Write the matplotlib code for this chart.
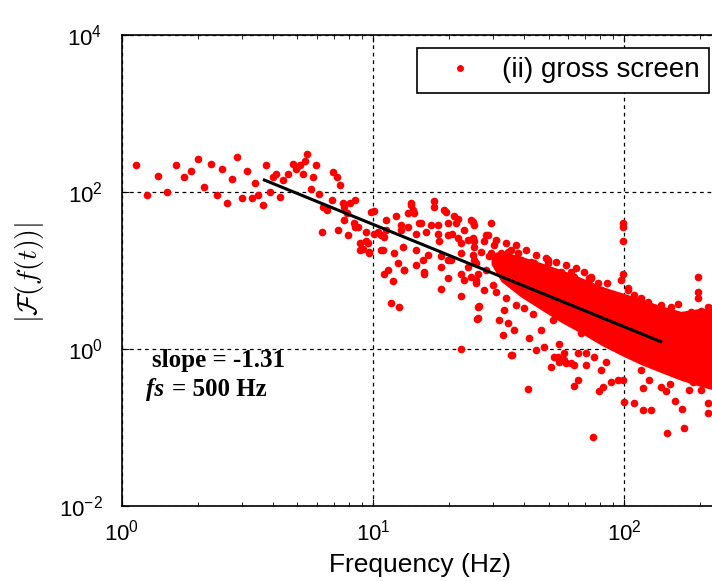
import numpy as np
import matplotlib
matplotlib.use('Agg')
import matplotlib.pyplot as plt
from matplotlib.lines import Line2D
from matplotlib.ticker import FixedLocator, FuncFormatter, NullLocator, LogLocator

# values, stored as log10(frequency in Hz) / log10(|F|)
low_logf = [0.055, 0.098, 0.145, 0.178, 0.215, 0.247, 0.274, 0.302, 0.326, 0.353,
            0.378, 0.398, 0.418, 0.437, 0.457, 0.477, 0.497, 0.517, 0.530, 0.543,
            0.562, 0.575, 0.588, 0.602, 0.615, 0.628, 0.641, 0.663, 0.681, 0.694,
            0.708, 0.721, 0.730, 0.737, 0.753, 0.760, 0.773, 0.786, 0.796, 0.802,
            0.816, 0.835, 0.842, 0.855, 0.869, 0.862, 0.882, 0.895, 0.902, 0.908,
            0.928, 0.928, 0.941, 0.948, 0.948, 0.886, 0.925, 0.886, 0.972, 0.959,
            0.985, 1.003, 0.992]
low_loga = [2.34, 1.96, 2.21, 2.00, 2.34, 2.19, 2.27, 2.42, 2.06, 2.36,
            1.96, 2.29, 1.86, 2.17, 2.44, 1.92, 2.27, 1.92, 2.11, 1.96,
            1.84, 2.34, 2.00, 2.19, 2.23, 1.94, 2.15, 2.23, 2.36, 2.29,
            2.34, 2.23, 2.40, 2.48, 2.04, 2.19, 2.34, 1.98, 1.49, 1.81,
            1.77, 1.90, 2.25, 2.19, 2.09, 1.52, 1.86, 1.73, 1.45, 1.86,
            1.90, 1.56, 1.56, 1.35, 1.26, 1.64, 1.60, 1.81, 1.37, 1.28,
            1.24, 1.47, 1.75]

mid_logf = [1.005, 0.972, 0.985, 0.979, 1.019, 1.032, 1.052, 1.045, 1.039, 1.059,
            1.045, 1.078, 1.072, 1.102, 1.092, 1.112, 1.118, 1.098, 1.122, 1.138,
            1.151, 1.158, 1.165, 1.138, 1.171, 1.184, 1.171, 1.171, 1.198, 1.204,
            1.218, 1.231, 1.242, 1.244, 1.258, 1.264, 1.271, 1.271, 1.284, 1.291,
            1.300, 1.298, 1.298, 1.300, 1.314, 1.324, 1.331, 1.337, 1.337, 1.351,
            1.351, 1.351, 1.364, 1.377, 1.390, 1.397, 1.364, 1.377, 1.404, 1.410,
            1.417, 1.417, 1.404, 1.211, 1.258, 1.351,
            1.052, 1.191, 1.112, 1.085, 1.032, 1.125, 1.204, 1.271, 1.311, 1.351,
            1.410, 1.390, 1.151, 1.397]
mid_loga = [1.76, 1.49, 1.22, 1.35, 1.49, 1.45, 1.64, 1.43, 1.26, 1.01,
            0.96, 0.87, 0.59, 0.53, 1.69, 1.58, 1.30, 1.09, 1.01, 1.56,
            1.83, 1.77, 1.73, 1.73, 1.47, 1.60, 1.26, 1.07, 1.13, 0.98,
            1.20, 1.58, 1.88, 1.81, 1.58, 1.37, 1.18, 0.77, 1.77, 1.75,
            1.60, 1.45, 1.13, 0.90, 1.47, 1.69, 1.60, 1.66, 1.41, 1.35,
            0.96, 0.67, 1.52, 1.39, 1.64, 1.41, 0.88, 1.05, 1.13, 0.88,
            0.54, 0.39, 1.30, 1.49, 1.47, 0.00,
            1.52, 1.60, 1.52, 1.22, 1.26, 1.01, 0.96, 1.05, 1.13, 1.22,
            1.09, 0.92, 1.86, 1.62]

dense_logf = [1.450, 1.443, 1.404, 1.397, 1.430, 1.417, 1.410, 1.450, 1.463, 1.483,
              1.497, 1.477, 1.443, 1.490, 1.424, 1.414, 1.503, 1.517, 1.537, 1.523,
              1.530, 1.510, 1.537, 1.550, 1.543, 1.563, 1.576, 1.590, 1.570, 1.563,
              1.550, 1.603, 1.610, 1.616, 1.629, 1.649, 1.656, 1.663, 1.636, 1.623,
              1.649, 1.669, 1.696, 1.702, 1.709, 1.716, 1.682, 1.709, 1.729, 1.736,
              1.749, 1.756, 1.762, 1.776, 1.789, 1.789, 1.796, 1.816, 1.829, 1.835,
              1.849, 1.862, 1.855, 1.762, 1.789, 1.816, 1.742, 1.470, 1.404,
              1.457, 1.470, 1.537, 1.590, 1.643, 1.696, 1.749, 1.802, 1.862, 1.895,
              1.490, 1.530, 1.570, 1.610, 1.649, 1.689, 1.729, 1.769, 1.809, 1.841]
dense_loga = [1.45, 1.37, 1.37, 1.20, 1.24, 0.96, 0.84, 1.01, 1.18, 1.32,
              1.09, 0.82, 0.75, 0.73, 0.55, 0.38, 0.37, 0.18, 0.33, 0.50,
              0.65, 1.22, 1.24, 1.26, 0.96, 1.09, 1.22, 0.84, 0.56, 0.24,
              -0.08, 0.52, 0.69, 1.05, 1.11, 0.92, 1.01, 0.73, 0.45, 0.14,
              -0.01, 0.24, 1.09, 0.84, 0.62, 0.37, 0.03, -0.23, 0.96, -0.10,
              0.75, 0.58, 0.94, 0.88, 0.98, 0.33, 0.67, 0.50, 0.20, 0.79,
              -0.05, 0.88, 0.54, -0.14, -0.18, -0.05, 0.07, 1.60, 1.58,
              1.45, 1.22, 1.22, 1.13, 1.09, 1.13, 0.98, 0.92, 0.90, 0.84,
              1.39, 1.35, 1.32, 1.26, 1.20, 1.16, 1.11, 1.07, 1.03, 0.98]

tail_logf = [1.553, 1.616, 1.722, 1.742, 1.769, 1.802, 1.816, 1.800, 1.849, 1.875,
             1.882, 1.908, 1.915, 1.902, 1.928, 1.948, 1.975, 1.995, 2.001, 2.041,
             2.075, 2.075, 2.108, 2.068, 2.101, 2.147, 2.167, 2.181, 2.203, 2.230,
             2.238, 2.171, 2.260, 2.274, 2.307, 2.336, 2.336, 1.762,
             1.995, 1.995, 1.995, 1.995, 1.988, 2.015, 2.294, 2.294, 2.294, 2.307,
             2.340, 2.187, 1.869, 1.895, 2.068, 1.961,
             1.869, 1.908, 1.932, 1.960, 2.016, 2.040, 2.068, 2.096, 2.120, 2.147,
             2.215, 2.239, 2.267, 2.335, 2.355]
tail_loga = [-0.08, -0.51, -0.10, -0.16, -0.18, -0.20, -0.39, -0.47, -0.20, -1.12,
             -0.10, -0.27, -0.48, -0.53, -0.16, -0.42, -0.39, -0.39, -0.67, -0.69,
             -0.50, -0.78, -0.78, -0.27, -0.39, -0.48, -0.54, -0.44, -0.66, -0.76,
             -1.01, -1.07, -0.52, -0.42, -0.52, -0.69, -0.82, -0.05,
             1.60, 1.56, 1.38, 0.96, 0.88, 0.75, 0.92, 0.73, 0.65, 0.48,
             0.52, 0.53, 0.90, 0.77, 0.62, 0.52,
             0.92, 0.75, 0.84, 0.62, 0.78, 0.69, 0.65, 0.60, 0.52, 0.56,
             0.57, 0.41, 0.47, 0.53, 0.50]

# the solid red mass at high frequency (upper / lower edge)
band_logf = [1.47, 1.51, 1.59, 1.669, 1.749, 1.829, 1.908, 1.988, 2.068,
             2.147, 2.227, 2.307, 2.355, 2.398]
band_hi = [1.22, 1.25, 1.18, 1.10, 1.01, 0.91, 0.80, 0.72, 0.64,
           0.55, 0.48, 0.52, 0.50, 0.50]
band_lo = [1.08, 0.86, 0.66, 0.50, 0.34, 0.20, 0.05, -0.08, -0.20,
           -0.30, -0.40, -0.48, -0.52, -0.52]

fit_freq = [3.69, 140.0]
fit_amp = [142.0, 1.24]

plt.rcParams['font.family'] = 'Liberation Sans'
plt.rcParams['mathtext.fontset'] = 'custom'
plt.rcParams['mathtext.rm'] = 'Liberation Sans'
plt.rcParams['mathtext.it'] = 'Liberation Sans:italic'
plt.rcParams['mathtext.bf'] = 'Liberation Sans:bold'

fig = plt.figure(figsize=(7.12, 5.81), dpi=100)
ax = fig.add_axes([122/712, 75/581, 602/712, 471/581])
ax.set_xscale('log')
ax.set_yscale('log')
ax.set_xlim(1, 250)
ax.set_ylim(1e-2, 1e4)
ax.set_axisbelow(True)

ax.fill_between(10**np.array(band_logf), 10**np.array(band_lo), 10**np.array(band_hi),
                color='red', lw=0, zorder=2)
for lf, la in [(low_logf, low_loga), (mid_logf, mid_loga),
               (dense_logf, dense_loga), (tail_logf, tail_loga)]:
    ax.plot(10**np.array(lf), 10**np.array(la), 'o', color='red', ms=5.5,
            mec='none', ls='none', zorder=3)
ax.plot(fit_freq, fit_amp, '-', color='k', lw=2.2, zorder=4)

fmt = FuncFormatter(lambda v, p: r'$10^{%d}$' % int(round(np.log10(v))))
ax.xaxis.set_major_locator(FixedLocator([1, 10, 100]))
ax.xaxis.set_minor_locator(LogLocator(subs=np.arange(2, 10)))
ax.xaxis.set_major_formatter(fmt)
ax.xaxis.set_minor_formatter(FuncFormatter(lambda v, p: ''))
ax.yaxis.set_major_locator(FixedLocator([1e-2, 1, 1e2, 1e4]))
ax.yaxis.set_minor_locator(NullLocator())
ax.yaxis.set_major_formatter(fmt)
ax.tick_params(which='both', direction='in', top=True, right=True, labelsize=16)
ax.tick_params(which='major', length=5)
ax.tick_params(which='minor', length=3)
ax.tick_params(axis='y', pad=14)
ax.tick_params(axis='x', pad=10)
ax.grid(True, which='major', ls=(0, (3, 3)), color='k', lw=0.9)
for s in ax.spines.values():
    s.set_linewidth(1.2)

h = [Line2D([], [], marker='o', ls='none', color='red', ms=5, mec='none')]
leg = ax.legend(h, ['(ii) gross screen'], loc='upper right',
                bbox_to_anchor=((709-122)/602, (506-47.7)/471),
                prop={'family': 'Liberation Sans', 'size': 20},
                fancybox=False, framealpha=1, edgecolor='k', borderaxespad=0,
                borderpad=0.35, handlelength=2.4, handletextpad=0.3)
leg.get_frame().set_linewidth(1.2)

ax.text(30/602, (506-367)/471, 'slope = -1.31', transform=ax.transAxes,
        family='Liberation Serif', weight='bold', size=18, va='baseline')
ax.text(24/602, (506-396)/471, 'fs', transform=ax.transAxes,
        family='Liberation Serif', weight='bold', style='italic', size=18, va='baseline')
ax.text(50/602, (506-396)/471, '= 500 Hz', transform=ax.transAxes,
        family='Liberation Serif', weight='bold', size=18, va='baseline')

fig.text(29/712, 1-272/581, r'$\left|\mathcal{F}(f(t))\right|$', rotation=90,
         ha='center', va='center', size=20, math_fontfamily='cm')
fig.text(420/712, 1-572/581, 'Frequency (Hz)', ha='center', va='baseline', size=19)

fig.savefig('out.png', dpi=100)
